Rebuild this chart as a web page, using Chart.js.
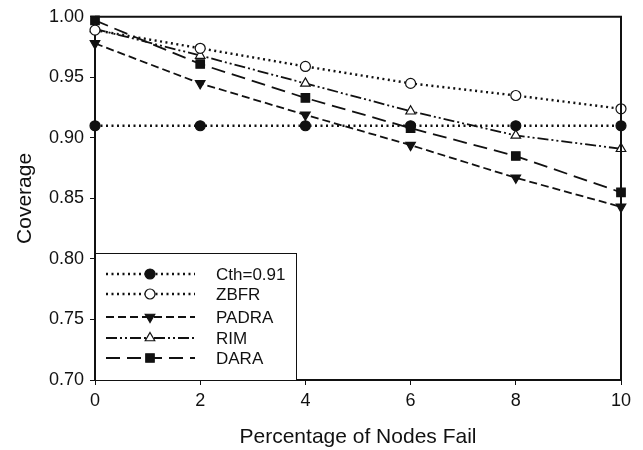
<!DOCTYPE html>
<html>
<head>
<meta charset="utf-8">
<script src="https://cdn.jsdelivr.net/npm/chart.js@4/dist/chart.umd.min.js"></script>
<style>
  html, body { margin: 0; padding: 0; background: #fff; }
  #wrap { width: 643px; height: 450px; position: relative; }
</style>
</head>
<body>
<div id="wrap"><canvas id="c" width="643" height="450"></canvas></div>
<script>
// ---- data ----
const categories = [0, 2, 4, 6, 8, 10];
const seriesNames = ["Cth=0.91", "ZBFR", "PADRA", "RIM", "DARA"];
const cth   = [0.910, 0.910, 0.910, 0.910, 0.910, 0.910];
const zbfr  = [0.989, 0.974, 0.959, 0.945, 0.935, 0.924];
const padra = [0.978, 0.945, 0.919, 0.894, 0.867, 0.843];
const rim   = [0.990, 0.968, 0.945, 0.922, 0.902, 0.891];
const dara  = [0.997, 0.961, 0.933, 0.908, 0.885, 0.855];
const yTicks = [0.70, 0.75, 0.80, 0.85, 0.90, 0.95, 1.00];
const xTicks = [0, 2, 4, 6, 8, 10];

const INK = "#111";
const FONT = "'Liberation Sans', Arial, sans-serif";

function pts(vals) { return categories.map((x, i) => ({ x: x, y: vals[i] })); }

const styles = [
  { dash: [2, 3.5], width: 2.4, point: "circle", fill: INK, rot: 0, r: 5 },
  { dash: [2, 3.5], width: 2.4, point: "circle", fill: "#fff", rot: 0, r: 5 },
  { dash: [8, 4], width: 1.8, point: "triangle", fill: INK, rot: 180, r: 5.5 },
  { dash: [11, 3, 2, 3, 2, 3], width: 1.8, point: "triangle", fill: "#fff", rot: 0, r: 5.5 },
  { dash: [14, 7], width: 1.8, point: "rect", fill: INK, rot: 0, r: 6 }
];
const values = [cth, zbfr, padra, rim, dara];

const datasets = values.map((v, i) => ({
  label: seriesNames[i],
  data: pts(v),
  borderColor: INK,
  backgroundColor: styles[i].fill,
  borderWidth: styles[i].width,
  borderDash: styles[i].dash,
  pointStyle: styles[i].point,
  pointRotation: styles[i].rot,
  pointRadius: styles[i].r,
  pointBorderWidth: 1.2,
  pointBorderColor: INK,
  pointBackgroundColor: styles[i].fill,
  tension: 0,
  clip: false
}));

const framePlugin = {
  id: "frame",
  afterDatasetsDraw(chart) {
    const { ctx, chartArea: a } = chart;
    ctx.save();
    ctx.strokeStyle = INK;
    ctx.lineWidth = 2;
    ctx.setLineDash([]);
    ctx.beginPath();
    ctx.moveTo(a.left, a.top);
    ctx.lineTo(a.right, a.top);
    ctx.lineTo(a.right, a.bottom);
    ctx.stroke();
    ctx.restore();
  }
};

const boxLegend = {
  id: "boxLegend",
  afterDatasetsDraw(chart) {
    const { ctx, chartArea: a } = chart;
    const left = a.left, right = a.left + 201, top = a.bottom - 127, bottom = a.bottom;
    ctx.save();
    ctx.fillStyle = "#fff";
    ctx.fillRect(left, top, right - left, bottom - top);
    ctx.strokeStyle = INK;
    ctx.lineWidth = 1;
    ctx.setLineDash([]);
    ctx.strokeRect(left + 0.5, top + 0.5, right - left, bottom - top);
    const ys = [21, 41, 64, 85, 105];
    chart.data.datasets.forEach((ds, i) => {
      const y = top + ys[i];
      ctx.strokeStyle = INK;
      ctx.lineWidth = ds.borderWidth;
      ctx.setLineDash(ds.borderDash);
      ctx.beginPath();
      ctx.moveTo(left + 11, y);
      ctx.lineTo(left + 100, y);
      ctx.stroke();
      ctx.setLineDash([]);
      ctx.fillStyle = ds.pointBackgroundColor;
      ctx.strokeStyle = INK;
      ctx.lineWidth = ds.pointBorderWidth;
      Chart.helpers.drawPoint(ctx, {
        pointStyle: ds.pointStyle,
        rotation: ds.pointRotation,
        radius: ds.pointRadius,
        borderWidth: ds.pointBorderWidth
      }, left + 55, y);
      ctx.fillStyle = INK;
      ctx.font = "17px " + FONT;
      ctx.textBaseline = "middle";
      ctx.textAlign = "left";
      ctx.fillText(ds.label, left + 121, y + 1);
    });
    ctx.restore();
  }
};

new Chart(document.getElementById("c"), {
  type: "line",
  data: { datasets: datasets },
  plugins: [framePlugin, boxLegend],
  options: {
    responsive: false,
    animation: false,
    devicePixelRatio: 1,
    layout: { padding: { left: 0, right: 22, top: 15, bottom: 0 } },
    plugins: { legend: { display: false }, tooltip: { enabled: false } },
    scales: {
      x: {
        type: "linear",
        min: 0, max: 10,
        afterBuildTicks(s) { s.ticks = xTicks.map(v => ({ value: v })); },
        afterFit(s) { s.height = 70; },
        ticks: { color: INK, font: { family: FONT, size: 18 }, padding: 5, maxRotation: 0 },
        grid: { drawOnChartArea: false, drawTicks: true, tickLength: 5, color: INK, lineWidth: 1 },
        border: { color: INK, width: 2 },
        title: { display: true, text: "Percentage of Nodes Fail", color: INK,
                 font: { family: FONT, size: 21 }, padding: { top: 6, bottom: 0 } }
      },
      y: {
        min: 0.70, max: 1.00,
        afterBuildTicks(s) { s.ticks = yTicks.map(v => ({ value: v })); },
        afterFit(s) { s.width = 95; },
        ticks: { color: INK, font: { family: FONT, size: 18 }, padding: 6,
                 callback: v => Number(v).toFixed(2) },
        grid: { drawOnChartArea: false, drawTicks: true, tickLength: 5, color: INK, lineWidth: 1 },
        border: { color: INK, width: 2 },
        title: { display: true, text: "Coverage", color: INK,
                 font: { family: FONT, size: 21 }, padding: { top: 13, bottom: 0 } }
      }
    }
  }
});
</script>
</body>
</html>
